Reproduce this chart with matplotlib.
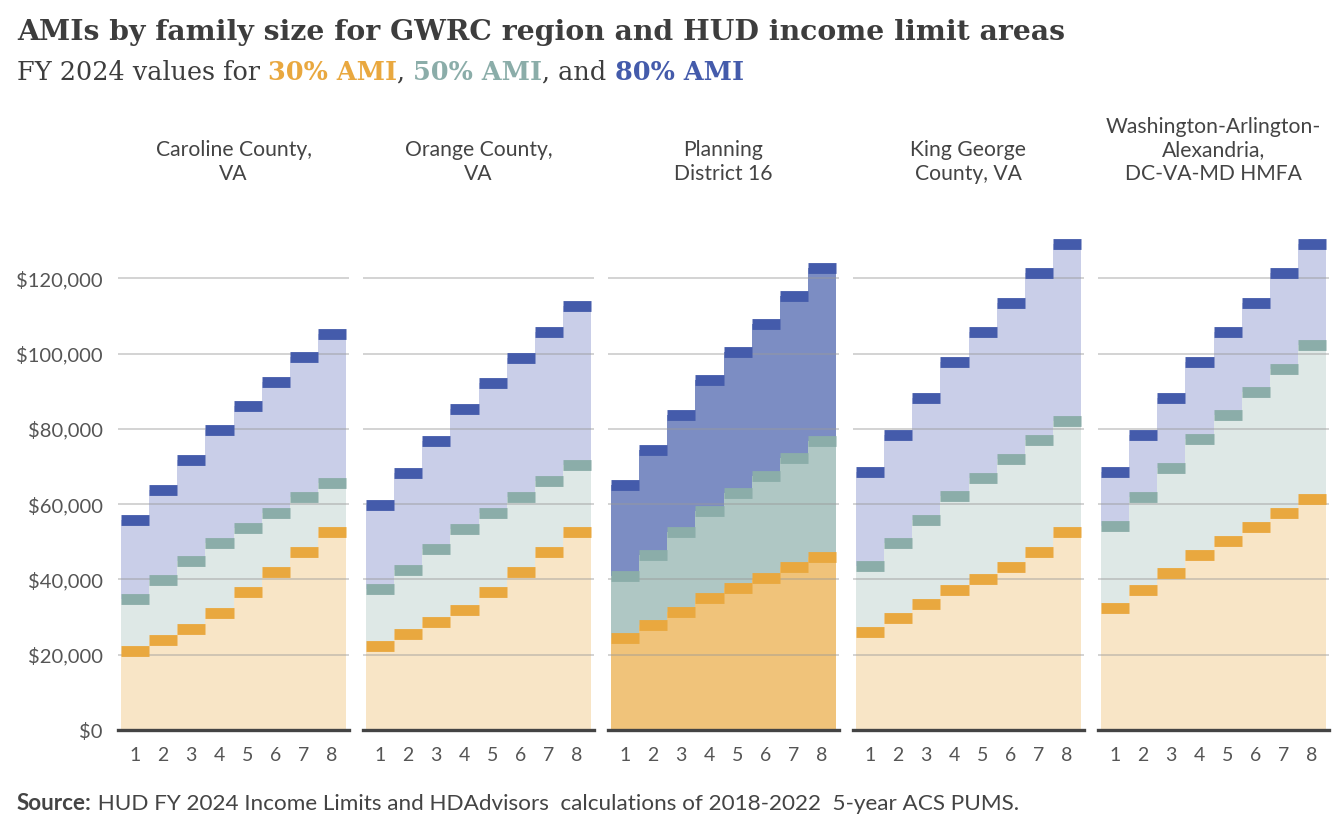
import numpy as np
import matplotlib
matplotlib.use("Agg")
import matplotlib.pyplot as plt
from matplotlib.ticker import FuncFormatter

# household sizes
sizes = [1, 2, 3, 4, 5, 6, 7, 8]

areas = ["Caroline County,\nVA", "Orange County,\nVA", "Planning\nDistrict 16",
         "King George\nCounty, VA", "Washington-Arlington-\nAlexandria,\nDC-VA-MD HMFA"]

# FY 2024 income limits (dollars)
caroline_30 = [20950, 23950, 26950, 31200, 36580, 41960, 47340, 52720]
caroline_50 = [34900, 39850, 44850, 49800, 53800, 57800, 61800, 65750]
caroline_80 = [55900, 63850, 71850, 79800, 86200, 92600, 99000, 105350]

orange_30 = [22400, 25600, 28800, 32000, 36580, 41960, 47340, 52720]
orange_50 = [37350, 42650, 48000, 53300, 57600, 61850, 66100, 70400]
orange_80 = [59700, 68200, 76750, 85250, 92100, 98900, 105750, 112550]

pd16_30 = [24400, 27900, 31450, 34950, 37700, 40500, 43300, 46100]
pd16_50 = [40800, 46600, 52500, 58200, 62900, 67500, 72200, 76800]
pd16_80 = [65200, 74500, 83800, 93100, 100500, 108000, 115400, 122800]

kg_30 = [26100, 29800, 33550, 37250, 40250, 43250, 47340, 52720]
kg_50 = [43500, 49700, 55900, 62100, 67100, 72050, 77000, 82000]
kg_80 = [68500, 78300, 88100, 97900, 105700, 113550, 121400, 129200]

dc_30 = [32550, 37200, 41850, 46450, 50200, 53900, 57600, 61350]
dc_50 = [54200, 61950, 69700, 77400, 83600, 89800, 96000, 102200]
dc_80 = [68500, 78300, 88100, 97900, 105700, 113550, 121400, 129200]

data = [(caroline_30, caroline_50, caroline_80),
        (orange_30, orange_50, orange_80),
        (pd16_30, pd16_50, pd16_80),
        (kg_30, kg_50, kg_80),
        (dc_30, dc_50, dc_80)]
highlight = 2  # Planning District 16 drawn darker

#colors: (band, light fill, dark fill)
c30 = ("#E9A83F", "#F8E5C6", "#F0C37A")
c50 = ("#8BADA9", "#DEE8E6", "#AFC7C4")
c80 = ("#445BAB", "#C9CEE8", "#7C8DC3")

plt.rcParams['font.family'] = ['Lato', 'DejaVu Sans']
txt = "#444444"

fig = plt.figure(figsize=(13.44, 8.30), dpi=100)
W, H = 1344, 830

edges = np.arange(0.5, 9.0, 1.0)
for i, (v30, v50, v80) in enumerate(data):
    left = 118 + i * 245
    ax = fig.add_axes([left / W, (H - 730) / H, 231 / W, 508 / H])
    k = 2 if i == highlight else 1
    for vals, cols in [(v80, c80), (v50, c50), (v30, c30)]:
        ax.stairs(vals, edges, fill=True, baseline=0, color=cols[k], zorder=1)
    for yv in range(20000, 140000, 20000):
        ax.axhline(yv, color="#999999", alpha=0.5, lw=1.2, zorder=2)
    for vals, cols in [(v80, c80), (v50, c50), (v30, c30)]:
        ax.hlines(vals, edges[:-1], edges[1:], colors=cols[0], lw=7.8,
                  capstyle='butt', zorder=3)
    ax.set_xlim(0.4, 8.6)
    ax.set_ylim(0, 135000)
    for s in ["top", "right", "left"]:
        ax.spines[s].set_visible(False)
    ax.spines["bottom"].set_color("#444444")
    ax.spines["bottom"].set_linewidth(2.4)
    ax.spines["bottom"].set_zorder(5)
    ax.set_xticks(sizes)
    ax.tick_params(axis="x", length=0, pad=12, labelsize=14, labelcolor="#555555")
    ax.set_yticks(range(0, 140000, 20000))
    ax.tick_params(axis="y", length=0, pad=11, labelsize=14.5, labelcolor="#555555")
    if i == 0:
        ax.yaxis.set_major_formatter(FuncFormatter(lambda v, p: "${:,.0f}".format(v)))
    else:
        ax.set_yticklabels([])
    fig.text((left + 115.5) / W, (H - 184) / H, areas[i], ha="center", va="bottom",
             ma="center", fontsize=15.2, color=txt, linespacing=1.22)

# title and subtitle
fig.text(17 / W, (H - 40) / H, "AMIs by family size for GWRC region and HUD income limit areas",
         family="DejaVu Serif", fontweight="bold", fontsize=20.3, color="#3d3d3d")

fig.canvas.draw()
r = fig.canvas.get_renderer()
x = 17 / W
pieces = [("FY 2024 values for ", "#3d3d3d", "normal"),
          ("30% AMI", c30[0], "bold"),
          (", ", "#3d3d3d", "normal"),
          ("50% AMI", c50[0], "bold"),
          (", and ", "#3d3d3d", "normal"),
          ("80% AMI", c80[0], "bold")]
for s, col, wt in pieces:
    t = fig.text(x, (H - 80) / H, s, family="DejaVu Serif", fontweight=wt,
                 fontsize=18.4, color=col)
    bb = t.get_window_extent(renderer=r)
    x += bb.width / W

# source line
t = fig.text(17 / W, (H - 810) / H, "Source:", fontweight="bold", fontsize=16.2, color=txt)
bb = t.get_window_extent(renderer=r)
fig.text(17 / W + bb.width / W, (H - 810) / H,
         " HUD FY 2024 Income Limits and HDAdvisors  calculations of 2018-2022  5-year ACS PUMS.",
         fontsize=16.2, color=txt)

fig.savefig("out.png", dpi=100)
